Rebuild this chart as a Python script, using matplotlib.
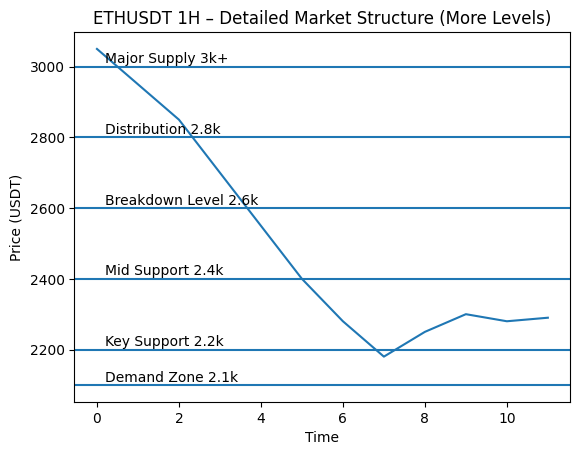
import matplotlib
matplotlib.use("Agg")
import matplotlib.pyplot as plt

time = [0, 1, 2, 3, 4, 5, 6, 7, 8, 9, 10, 11]
price = [3050, 2950, 2850, 2700, 2550, 2400, 2280, 2180, 2250, 2300, 2280, 2290]

levels = [3000, 2800, 2600, 2400, 2200, 2100]
level_labels = ["Major Supply 3k+", "Distribution 2.8k", "Breakdown Level 2.6k",
                "Mid Support 2.4k", "Key Support 2.2k", "Demand Zone 2.1k"]

fig, ax = plt.subplots(figsize=(6.4, 4.8), dpi=100)
ax.plot(time, price)
for lv, lab in zip(levels, level_labels):
    ax.axhline(lv)
    ax.text(time[0] + 0.2, lv + 10, lab)

ax.set_title("ETHUSDT 1H – Detailed Market Structure (More Levels)")
ax.set_xlabel("Time")
ax.set_ylabel("Price (USDT)")
fig.savefig("out.png", dpi=100, bbox_inches="tight")
